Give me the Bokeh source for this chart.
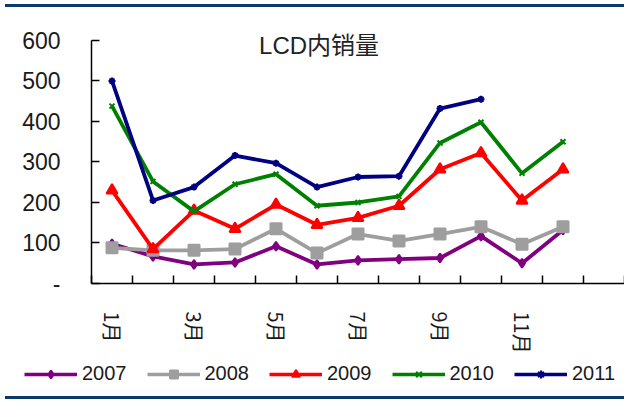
import math
from bokeh.plotting import figure
from bokeh.models import Range1d, FixedTicker, Legend, LegendItem, Label, Div
from bokeh.layouts import column, row
from bokeh.embed import file_html
from bokeh.resources import INLINE

months = ["1月", "2月", "3月", "4月", "5月", "6月", "7月", "8月", "9月", "10月", "11月", "12月"]
years = ["2007", "2008", "2009", "2010", "2011"]
v2007 = [98, 67, 47, 52, 92, 47, 57, 60, 63, 117, 50, 132]
v2008 = [88, 82, 82, 85, 135, 75, 122, 105, 122, 140, 97, 140]
v2009 = [230, 85, 180, 135, 195, 145, 162, 192, 282, 322, 205, 282]
v2010 = [438, 252, 178, 245, 270, 192, 200, 215, 347, 398, 272, 350]
v2011 = [500, 205, 238, 316, 297, 238, 263, 265, 432, 455]
y_ticks = [0, 100, 200, 300, 400, 500, 600]
title_text = "LCD内销量"

series = [v2007, v2008, v2009, v2010, v2011]
colors = ["#800080", "#9e9e9e", "#ff0000", "#008000", "#000080"]
markers = ["diamond", "square", "triangle", "x", "asterisk"]
msizes = [9, 11, 11, 7, 7]
navy = "#0a3a6a"

p = figure(width=624, height=353, x_range=Range1d(0.5, 13.5), y_range=Range1d(0, 676.5),
           output_backend="svg", toolbar_location=None, title=None, margin=0,
           min_border_left=91, min_border_right=0, min_border_top=2, min_border_bottom=77)
p.outline_line_color = None
p.xgrid.visible = False
p.ygrid.visible = False
p.background_fill_color = "white"
p.border_fill_color = "white"

# y axis
p.yaxis.ticker = FixedTicker(ticks=y_ticks)
p.yaxis.bounds = (0, 600)
p.yaxis.major_label_overrides = {0: "-"}
p.yaxis.major_tick_in = 8
p.yaxis.major_tick_out = 0
p.yaxis.minor_tick_line_color = None
p.yaxis.axis_line_color = "black"
p.yaxis.axis_line_width = 1.5
p.yaxis.major_tick_line_width = 1.5
p.yaxis.major_label_standoff = 31
p.yaxis.major_label_text_font = "Liberation Sans"
p.yaxis.major_label_text_font_size = "23px"
p.yaxis.major_label_text_color = "#1a1a1a"

# x axis
label_pos = [i + 1 for i in range(0, 12, 2)]
p.xaxis.ticker = FixedTicker(ticks=label_pos, minor_ticks=[i + 0.5 for i in range(14)])
p.xaxis.major_label_overrides = {i + 1: months[i] for i in range(0, 12, 2)}
p.xaxis.major_tick_in = 0
p.xaxis.major_tick_out = 0
p.xaxis.minor_tick_in = 8
p.xaxis.minor_tick_out = 0
p.xaxis.minor_tick_line_color = "black"
p.xaxis.minor_tick_line_width = 1.5
p.xaxis.axis_line_color = "black"
p.xaxis.axis_line_width = 1.5
p.xaxis.major_label_orientation = -math.pi / 2
p.xaxis.major_label_standoff = 28
p.xaxis.major_label_text_font = "Noto Sans CJK SC"
p.xaxis.major_label_text_font_size = "20px"
p.xaxis.major_label_text_color = "#1a1a1a"

for vals, c, m, s in zip(series, colors, markers, msizes):
    xs = list(range(1, len(vals) + 1))
    p.line(xs, vals, line_color=c, line_width=3.8)
    p.scatter(xs, vals, marker=m, size=s, fill_color=c, line_color=c, line_width=2)

p.add_layout(Label(x=6.05, y=588, text=title_text, text_align="center", text_baseline="middle",
                   text_font="Liberation Sans, Noto Sans CJK SC", text_font_size="24px",
                   text_color="#222222"))

# legend strip: same series, plotted outside its (empty) view so only the legend shows
lg = figure(width=624, height=34, output_backend="svg", toolbar_location=None, title=None,
            x_axis_type=None, y_axis_type=None, margin=0, min_border=0,
            min_border_left=0, min_border_right=0, min_border_top=0, min_border_bottom=0,
            x_range=Range1d(-2, -1), y_range=Range1d(-2, -1))
lg.outline_line_color = None
lg.xgrid.visible = False
lg.ygrid.visible = False
items = []
for name, vals, c, m, s in zip(years, series, colors, markers, msizes):
    xs = list(range(1, len(vals) + 1))
    r1 = lg.line(xs, vals, line_color=c, line_width=3.5)
    r2 = lg.scatter(xs, vals, marker=m, size=s - 2, fill_color=c, line_color=c, line_width=2)
    items.append(LegendItem(label=name, renderers=[r1, r2]))
legend = Legend(items=items, orientation="horizontal", location=(24, 9),
                glyph_width=53, glyph_height=20, label_standoff=5, spacing=20,
                padding=0, margin=0, border_line_color=None, background_fill_alpha=0,
                label_text_font="Liberation Sans", label_text_font_size="20px",
                label_text_color="#1a1a1a")
lg.add_layout(legend, "center")

top_line = Div(width=619, height=3, margin=(4, 0, 0, 5), styles={"background-color": navy})
bottom_line = Div(width=619, height=3, margin=(2, 0, 0, 5), styles={"background-color": navy})
layout = column(top_line, p, row(lg, spacing=0), bottom_line, spacing=0)

open("out.html", "w").write(file_html(layout, INLINE))
